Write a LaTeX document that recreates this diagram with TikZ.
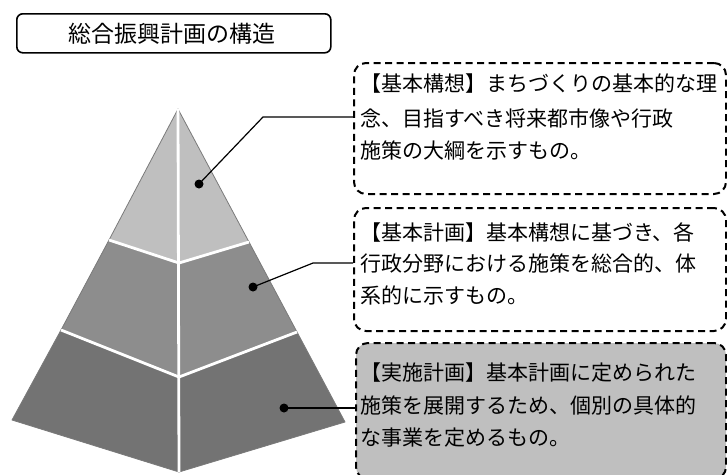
\documentclass[tikz,border=0pt]{standalone}
\usepackage{fontspec}
\newfontfamily\jp{Noto Sans CJK JP}
\definecolor{lay1}{HTML}{BFBFBF}
\definecolor{lay2}{HTML}{8D8D8D}
\definecolor{lay3}{HTML}{737373}
\definecolor{edgec}{HTML}{7A7A7A}
\tikzset{
  face/.style={draw=edgec, line width=0.8pt, line join=round},
  sep/.style={draw=white, line width=2.8pt},
  dotnode/.style={circle, fill=black, inner sep=0pt, minimum size=9pt},
  conn/.style={draw=black, line width=1.2pt},
  dbox/.style={draw=black, line width=2pt, dash pattern=on 7pt off 4.5pt, rounded corners=12pt, inner sep=0pt},
  titlebox/.style={draw=black, line width=1.6pt, rounded corners=6pt, inner sep=0pt},
  body/.style={font=\jp\fontsize{21}{25}\selectfont, anchor=base west, inner sep=0pt},
}
\begin{document}
\begin{tikzpicture}[x=1pt,y=-1pt]
\useasboundingbox (0,0) rectangle (727,474);
\clip (0,0) rectangle (727,474);
% title
\node[titlebox, minimum width=314pt, minimum height=39pt, anchor=north west] (title) at (16,13) {};
\node[font=\jp\fontsize{23}{27}\selectfont, inner sep=0pt] (titletext) at (172,34) {総合振興計画の構造};
% pyramid points
\coordinate (A) at (178,109);
\coordinate (F) at (179,472);
\coordinate (L) at (12,420);
\coordinate (R) at (345,422);
\coordinate (L1) at (109,240);
\coordinate (C1) at (179,263);
\coordinate (R1) at (249,242);
\coordinate (L2) at (61,330);
\coordinate (C2) at (179,377);
\coordinate (R2) at (297,332);
% faces
\filldraw[face, fill=lay1] (A) -- (L1) -- (C1) -- cycle;
\filldraw[face, fill=lay1] (A) -- (C1) -- (R1) -- cycle;
\filldraw[face, fill=lay2] (L1) -- (L2) -- (C2) -- (C1) -- cycle;
\filldraw[face, fill=lay2] (C1) -- (C2) -- (R2) -- (R1) -- cycle;
\filldraw[face, fill=lay3] (L2) -- (L) -- (F) -- (C2) -- cycle;
\filldraw[face, fill=lay3] (C2) -- (F) -- (R) -- (R2) -- cycle;
% white separators
\draw[sep] (A) -- (F);
\draw[sep] (L1) -- (C1) -- (R1);
\draw[sep] (L2) -- (C2) -- (R2);
% boxes
\node[dbox, minimum width=372pt, minimum height=131pt, anchor=north west] (b1) at (353,62) {};
\node[dbox, minimum width=372pt, minimum height=123pt, anchor=north west] (b2) at (353,207) {};
\node[dbox, fill=lay1, minimum width=370pt, minimum height=136pt, anchor=north west] (b3) at (355,342) {};
% texts
\node[body] (t1a) at (360,91) {【基本構想】まちづくりの基本的な理};
\node[body] (t1b) at (360,126) {念、目指すべき将来都市像や行政};
\node[body] (t1c) at (360,158) {施策の大綱を示すもの。};
\node[body] (t2a) at (360,240) {【基本計画】基本構想に基づき、各};
\node[body] (t2b) at (360,271) {行政分野における施策を総合的、体};
\node[body] (t2c) at (360,303) {系的に示すもの。};
\node[body] (t3a) at (360,380) {【実施計画】基本計画に定められた};
\node[body] (t3b) at (360,413) {施策を展開するため、個別の具体的};
\node[body] (t3c) at (360,445) {な事業を定めるもの。};
% dots and connectors
\node[dotnode] (d1) at (199,184) {};
\node[dotnode] (d2) at (253,287) {};
\node[dotnode] (d3) at (284,408) {};
\coordinate (k1) at (263,117);
\coordinate (k2) at (313,263);
\draw[conn] (d1.center) -- (k1) -- (k1 -| b1.west);
\draw[conn] (d2.center) -- (k2) -- (k2 -| b2.west);
\draw[conn] (d3.center) -- (d3.center -| b3.west);
\end{tikzpicture}
\end{document}
